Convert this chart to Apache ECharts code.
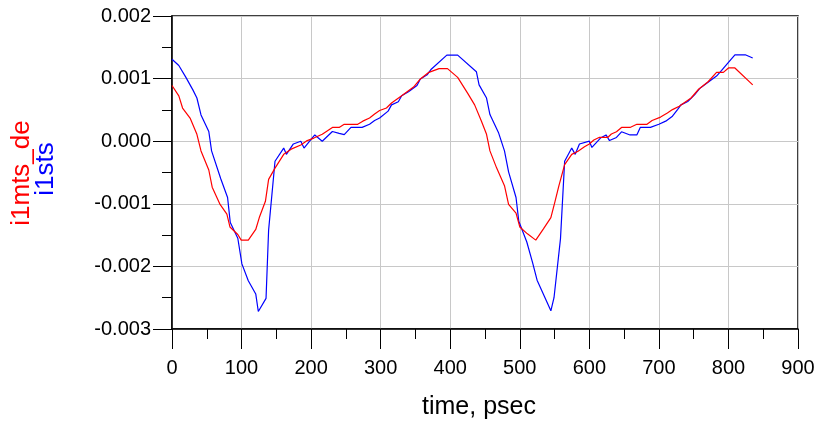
<!DOCTYPE html>
<html>
<head>
<meta charset="utf-8">
<script src="https://cdn.jsdelivr.net/npm/echarts@6/dist/echarts.min.js"></script>
<style>
  html, body { margin: 0; padding: 0; background: #fff; }
  #chart { width: 818px; height: 422px; }
</style>
</head>
<body>
<div id="chart"></div>
<script>
// Transient currents, time in psec, current in mA (converted to A when plotted)
const blueName = 'i1sts';
const redName = 'i1mts_de';

const blueTime = [
  0, 9.8, 20, 30, 35.8, 41.7, 52.9, 56.9, 70.1, 79.9,
  83.8, 94.6, 100.5, 109.7, 120.4, 124.1, 135.2, 138.9, 148.1, 160.6,
  164.4, 174.5, 185.2, 189.8, 200.5, 205.3, 216, 230.6, 240.3, 247.6,
  257.3, 273.3, 284, 291.3, 298.5, 310.7, 315.6, 325.4, 330.2, 340,
  352.2, 357.1, 366.8, 372.7, 395.1, 410.7, 437.6, 441.5, 452.2, 457.1,
  469.3, 478, 483.9, 494.6, 498.6, 510.1, 518.4, 524.9, 544.7, 549.2,
  558.5, 564.5, 574.7, 579.7, 585.8, 600, 603.7, 616, 624, 629,
  639, 646.3, 658.5, 668.3, 673.2, 687.8, 700, 709.8, 719.5, 726.8,
  731.7, 741.5, 751.2, 758.5, 770.7, 782.9, 790.2, 800, 809.3, 824.2,
  834.9
];
const blueValues = [
  1.31, 1.21, 1.02, 0.82, 0.69, 0.42, 0.155, -0.155, -0.60, -0.90,
  -1.30, -1.55, -1.96, -2.23, -2.44, -2.72, -2.51, -1.42, -0.32, -0.11,
  -0.21, -0.044, 0, -0.11, 0.036, 0.10, 0, 0.155, 0.125, 0.104,
  0.22, 0.22, 0.27, 0.33, 0.37, 0.48, 0.58, 0.63, 0.725, 0.79,
  0.89, 0.995, 1.06, 1.15, 1.375, 1.375, 1.11, 0.90, 0.69, 0.425,
  0.14, -0.155, -0.49, -0.90, -1.28, -1.61, -1.94, -2.22, -2.71, -2.50,
  -1.56, -0.32, -0.11, -0.21, -0.044, 0, -0.10, 0.05, 0.10, 0.01,
  0.06, 0.15, 0.10, 0.10, 0.22, 0.22, 0.27, 0.32, 0.40, 0.505,
  0.58, 0.635, 0.74, 0.84, 0.94, 1.04, 1.13, 1.26, 1.38, 1.38,
  1.33
];

const redTime = [
  0, 9.8, 15.2, 26, 35.8, 41.7, 52.9, 57.8, 69.1, 78.9,
  83.3, 94.6, 99.5, 109.7, 120.4, 125.5, 134.3, 138.9, 148.1, 160.6,
  171.3, 185.2, 194.4, 203.9, 216, 230.6, 240.3, 247.6, 267, 274.3,
  284, 291.3, 298.5, 308.3, 315.6, 330.2, 347.3, 357.1, 369.3, 383.9,
  396.1, 410.7, 425.4, 435.1, 444.9, 452.2, 457.1, 466.8, 478, 483.9,
  494.6, 500, 511, 523, 534, 544.7, 550.7, 556.3, 564.5, 574.7,
  583.8, 593, 600, 606.5, 614.6, 626.8, 631.7, 639, 646.3, 658.5,
  668.3, 682.9, 690.2, 702.4, 712.2, 719.5, 729.3, 739, 746.3, 757.1,
  770.7, 782.9, 792.7, 800, 809.3, 834.9
];
const redValues = [
  0.89, 0.725, 0.53, 0.37, 0.11, -0.155, -0.46, -0.735, -1.01, -1.165,
  -1.37, -1.49, -1.58, -1.58, -1.41, -1.22, -0.96, -0.61, -0.43, -0.21,
  -0.127, -0.06, 0.01, 0.05, 0.11, 0.22, 0.22, 0.27, 0.27, 0.32,
  0.37, 0.435, 0.49, 0.53, 0.61, 0.725, 0.865, 0.995, 1.10, 1.16,
  1.16, 1.02, 0.76, 0.58, 0.32, 0.11, -0.155, -0.43, -0.71, -1.01,
  -1.15, -1.37, -1.48, -1.58, -1.40, -1.22, -0.96, -0.71, -0.375, -0.21,
  -0.16, -0.09, -0.044, 0.02, 0.0625, 0.0625, 0.115, 0.15, 0.22, 0.22,
  0.27, 0.27, 0.33, 0.385, 0.45, 0.505, 0.557, 0.635, 0.69, 0.83,
  0.95, 1.10, 1.10, 1.17, 1.17, 0.90
];

const xTicks = { min: 0, max: 900, step: 100 };
const yTicks = { min: -0.003, max: 0.002, step: 0.001 };

const FONT = '"Liberation Sans", Arial, sans-serif';
const toPairs = (ts, vs) => ts.map((t, i) => [t, vs[i] / 1000]);

const chart = echarts.init(document.getElementById('chart'), null, { renderer: 'canvas' });
chart.setOption({
  animation: false,
  backgroundColor: '#ffffff',
  grid: {
    left: 172, right: 20, top: 16, bottom: 93,
    containLabel: false,
    outerBoundsMode: 'none',
    show: true, borderColor: '#000', borderWidth: 1.5, backgroundColor: 'transparent'
  },
  xAxis: {
    type: 'value',
    min: xTicks.min, max: xTicks.max, interval: xTicks.step,
    axisLine: { show: true, onZero: false, lineStyle: { color: '#000', width: 1.5 } },
    axisTick: { show: true, inside: false, length: 20, lineStyle: { color: '#000', width: 1 } },
    minorTick: { show: true, splitNumber: 2, length: 10, lineStyle: { color: '#000', width: 1 } },
    splitLine: { show: true, lineStyle: { color: '#c8c8c8', width: 1 } },
    axisLabel: { color: '#000', fontSize: 20, fontFamily: FONT, margin: 29 },
    name: 'time, psec',
    nameLocation: 'middle',
    nameGap: 66,
    nameTextStyle: { color: '#000', fontSize: 25, fontFamily: FONT, padding: [0, 12, 0, 0] }
  },
  yAxis: {
    type: 'value',
    min: yTicks.min, max: yTicks.max, interval: yTicks.step,
    axisLine: { show: true, onZero: false, lineStyle: { color: '#000', width: 1.5 } },
    axisTick: { show: true, inside: false, length: 19, lineStyle: { color: '#000', width: 1 } },
    minorTick: { show: true, splitNumber: 2, length: 10, lineStyle: { color: '#000', width: 1 } },
    splitLine: { show: true, lineStyle: { color: '#c8c8c8', width: 1 } },
    axisLabel: {
      color: '#000', fontSize: 20, fontFamily: FONT, margin: 21,
      formatter: v => (Math.abs(v) < 1e-12 ? 0 : v).toFixed(3)
    }
  },
  graphic: [
    {
      type: 'text', x: 22, y: 173, rotation: Math.PI / 2,
      style: { text: redName, fill: '#ff0000', font: '26px ' + FONT, align: 'center', verticalAlign: 'middle' }
    },
    {
      type: 'text', x: 46, y: 169, rotation: Math.PI / 2,
      style: { text: blueName, fill: '#0000ff', font: '26px ' + FONT, align: 'center', verticalAlign: 'middle' }
    }
  ],
  series: [
    {
      name: blueName, type: 'line', showSymbol: false, smooth: false,
      lineStyle: { color: '#0000ff', width: 1.2 },
      data: toPairs(blueTime, blueValues)
    },
    {
      name: redName, type: 'line', showSymbol: false, smooth: false,
      lineStyle: { color: '#ff0000', width: 1.2 },
      data: toPairs(redTime, redValues)
    }
  ]
});
</script>
</body>
</html>
